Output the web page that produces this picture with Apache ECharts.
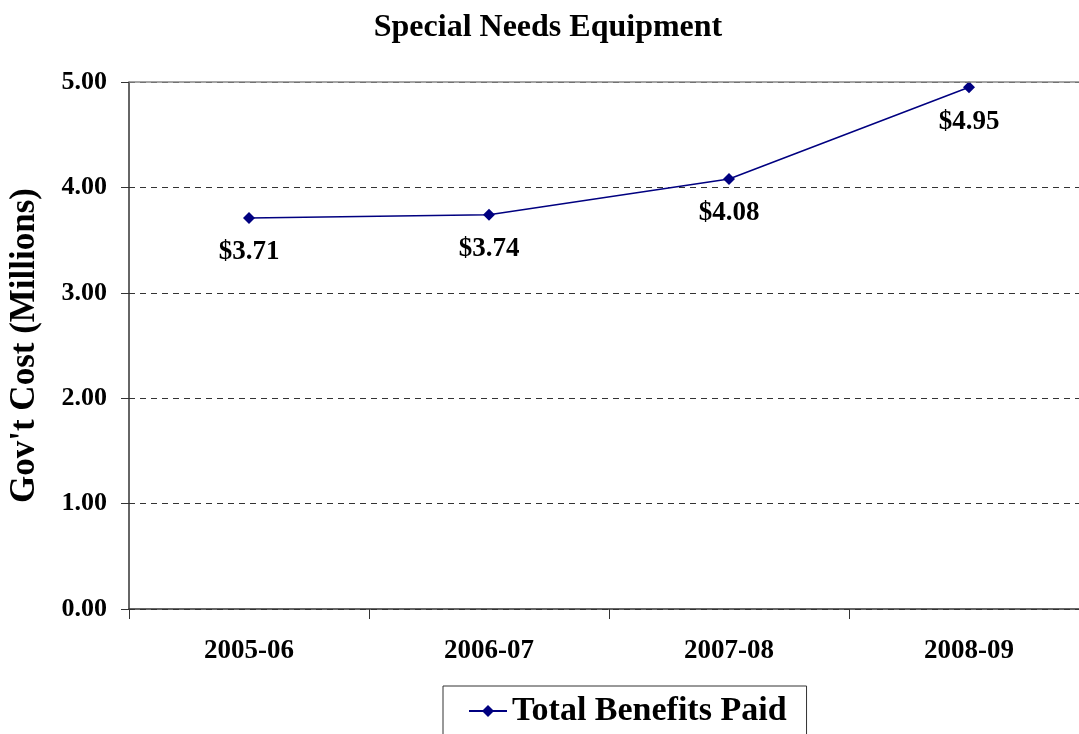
<!DOCTYPE html>
<html><head><meta charset="utf-8">
<script src="https://cdn.jsdelivr.net/npm/echarts@6/dist/echarts.min.js"></script>
<style>html,body{margin:0;padding:0;background:#fff}#c{width:1079px;height:734px}</style>
</head><body><div id="c"></div>
<script>
const categories = ['2005-06','2006-07','2007-08','2008-09'];
const benefits = [3.71, 3.74, 4.08, 4.95];
const yTicks = [0, 1, 2, 3, 4, 5];
const seriesName = 'Total Benefits Paid';
const font = '"Liberation Serif", "Times New Roman", serif';
const chart = echarts.init(document.getElementById('c'));
chart.setOption({
  animation: false,
  title: {text: 'Special Needs Equipment', left: 543, top: 7, textAlign: 'center',
    textStyle: {fontFamily: font, fontWeight: 'bold', fontSize: 32, color: '#000'}},
  grid: {left: 129, right: -10, top: 82, bottom: 125, containLabel: false, outerBoundsMode: 'none'},
  legend: {data: [seriesName], left: 443, top: 686, padding: [8, 20, 20, 25],
    borderColor: '#333', borderWidth: 1, itemWidth: 38, itemHeight: 15, itemGap: 6,
    textStyle: {fontFamily: font, fontWeight: 'bold', fontSize: 34, color: '#000'}},
  xAxis: {type: 'category', data: categories, boundaryGap: true,
    axisLine: {lineStyle: {color: '#333', width: 1.5}},
    axisTick: {show: true, length: 10, inside: false, lineStyle: {color: '#333'}},
    axisLabel: {fontFamily: font, fontWeight: 'bold', fontSize: 27, color: '#000', margin: 29}},
  yAxis: {type: 'value', min: yTicks[0], max: yTicks[yTicks.length-1], interval: 1,
    name: "Gov't Cost (Millions)", nameLocation: 'middle', nameGap: 87, nameRotate: 90,
    nameTextStyle: {fontFamily: font, fontWeight: 'bold', fontSize: 35, color: '#000'},
    axisLine: {show: true, lineStyle: {color: '#333', width: 1.5}},
    axisTick: {show: true, length: 8, lineStyle: {color: '#333'}},
    axisLabel: {fontFamily: font, fontWeight: 'bold', fontSize: 26, color: '#000', margin: 22,
      padding: [7, 0, 0, 0], formatter: v => v.toFixed(2)},
    splitLine: {show: true, lineStyle: {color: '#333', type: [6, 5], width: 1}}},
  series: [{
    name: seriesName, type: 'line', data: benefits,
    symbol: 'diamond', symbolSize: 12,
    lineStyle: {color: '#000080', width: 1.5},
    itemStyle: {color: '#000080'},
    label: {show: true, position: 'bottom', distance: 15, formatter: p => '$' + p.value.toFixed(2),
      fontFamily: font, fontWeight: 'bold', fontSize: 27, color: '#000'},
    markLine: {silent: true, symbol: 'none', label: {show: false},
      lineStyle: {color: '#888', type: 'solid', width: 1.5},
      data: [{yAxis: yTicks[yTicks.length-1]}]}
  }]
});
</script></body></html>
